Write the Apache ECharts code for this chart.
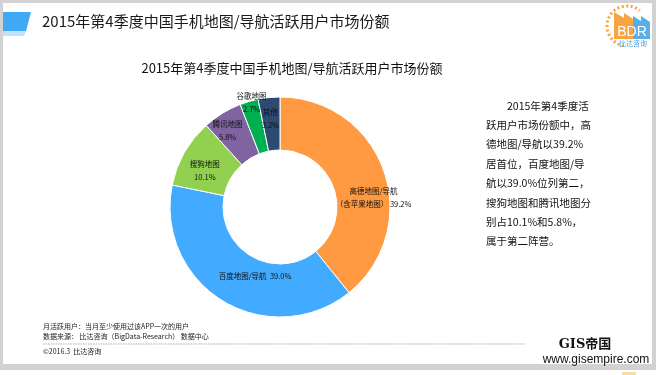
<!DOCTYPE html>
<html>
<head>
<meta charset="utf-8">
<script src="https://cdn.jsdelivr.net/npm/echarts@6/dist/echarts.min.js"></script>
<style>
  html, body { margin: 0; padding: 0; background: #fff; }
  #chart { width: 656px; height: 375px; }
</style>
</head>
<body>
<div id="chart"></div>
<script>
(function () {
    'use strict';

    // 数据（顺时针，从12点开始）
    var names = ['高德地图/导航\n（含苹果地图）', '百度地图/导航', '搜狗地图', '腾讯地图', '谷歌地图', '其他'];
    var shares = [39.2, 39.0, 10.1, 5.8, 2.7, 3.2];
    var joiners = [' ', '  ', '\n', '\n', '\n', '\n'];
    var colors = ['#FF9A42', '#43ABFF', '#92D050', '#8064A2', '#00B050', '#2C4A72'];
    // 标签微调（像素），和 Excel 原图里手动拖动过的标签对齐
    var labelNudge = [[12, 19], [20, -5], [0, 7], [-7, -3], [-4, -21], [-1, -2]];

    var noteLines = [
        '　　2015年第4季度活',
        '跃用户市场份额中，高',
        '德地图/导航以39.2%',
        '居首位，百度地图/导',
        '航以39.0%位列第二，',
        '搜狗地图和腾讯地图分',
        '别占10.1%和5.8%，',
        '属于第二阵营。'
    ];
    var footLines = [
        '月活跃用户：当月至少使用过该APP一次的用户',
        '数据来源： 比达咨询（BigData-Research） 数据中心'
    ];

    var FONT = '"Microsoft YaHei", "Noto Sans CJK SC", sans-serif';
    var chart = echarts.init(document.getElementById('chart'), null, { renderer: 'canvas' });

    var pieData = names.map(function (n, i) {
        return { name: n, value: shares[i], itemStyle: { color: colors[i] } };
    });

    chart.setOption({
        backgroundColor: '#fff',
        animation: false,
        title: {
            text: '2015年第4季度中国手机地图/导航活跃用户市场份额',
            left: 287, top: 57, textAlign: 'center',
            textStyle: { fontSize: 13, fontWeight: 'normal', color: '#111', fontFamily: FONT }
        },
        series: [{
            type: 'pie',
            center: [280, 207],
            radius: [57, 110],
            startAngle: 90,
            clockwise: true,
            silent: true,
            itemStyle: { borderColor: '#fff', borderWidth: 1 },
            label: {
                position: 'inside',
                color: '#111',
                fontSize: 7.5,
                lineHeight: 13,
                fontFamily: FONT,
                formatter: function (p) {
                    return names[p.dataIndex] + joiners[p.dataIndex] + shares[p.dataIndex].toFixed(1) + '%';
                }
            },
            labelLayout: function (p) {
                return { dx: labelNudge[p.dataIndex][0], dy: labelNudge[p.dataIndex][1] };
            },
            data: pieData
        }],
        graphic: [
            // 灰色边框
            { type: 'rect', shape: { x: 0, y: 0, width: 656, height: 3 }, style: { fill: '#D2D2D2' } },
            { type: 'rect', shape: { x: 0, y: 0, width: 3, height: 366 }, style: { fill: '#D2D2D2' } },
            { type: 'rect', shape: { x: 652, y: 0, width: 4, height: 366 }, style: { fill: '#D2D2D2' } },
            { type: 'rect', shape: { x: 0, y: 364, width: 656, height: 6 }, style: { fill: '#D2D2D2' } },
            { type: 'rect', shape: { x: 622, y: 372, width: 14, height: 3 }, style: { fill: '#FBD9A8' } },
            // 页眉
            { type: 'polygon', shape: { points: [[3, 31], [26, 31], [24, 36], [3, 36]] }, style: { fill: '#BFE2FA' } },
            { type: 'polygon', shape: { points: [[3, 12], [31, 12], [26, 31], [3, 31]] }, style: { fill: '#3FA9F5' } },
            {
                type: 'text', x: 42, y: 21,
                style: { text: '2015年第4季度中国手机地图/导航活跃用户市场份额', fontSize: 15, fill: '#1a1a1a',
                    fontFamily: FONT, verticalAlign: 'middle' }
            },
            // BDR 标志
            {
                type: 'arc',
                shape: { cx: 627, cy: 26, r: 20, startAngle: Math.PI * 0.55, endAngle: Math.PI * 1.72, clockwise: true },
                style: { stroke: '#F7A541', fill: null, lineWidth: 3, lineDash: [2, 2.5] }
            },
            { type: 'polygon', shape: { points: [[614, 12], [624, 18], [624, 13], [633, 19], [633, 39], [614, 39]] }, style: { fill: '#F7A541' } },
            { type: 'polygon', shape: { points: [[633, 16], [641, 21], [641, 16], [650, 22], [650, 39], [633, 39]] }, style: { fill: '#5AAEE8' } },
            {
                type: 'text', x: 632, y: 32,
                style: { text: 'BDR', fontSize: 14, fill: '#fff', fontFamily: 'Arial, "Liberation Sans", sans-serif',
                    align: 'center', verticalAlign: 'middle' }
            },
            {
                type: 'text', x: 633, y: 43,
                style: { text: '比达咨询', fontSize: 7, fill: '#4A9FE0', fontFamily: FONT, align: 'center', verticalAlign: 'middle' }
            },
            // 右侧说明
            {
                type: 'text', x: 486, y: 96,
                style: { text: noteLines.join('\n'), fontSize: 10.5, lineHeight: 19.4, fill: '#111', fontFamily: FONT }
            },
            // 页脚
            {
                type: 'text', x: 43, y: 322,
                style: { text: footLines.join('\n'), fontSize: 7, lineHeight: 9.5, fill: '#222', fontFamily: FONT }
            },
            {
                type: 'line', shape: { x1: 43, y1: 344, x2: 525, y2: 344 },
                style: { stroke: '#777', lineWidth: 0.6, lineDash: [1.5, 1] }
            },
            {
                type: 'text', x: 43, y: 351,
                style: { text: '©2016.3  比达咨询', fontSize: 7, fill: '#222', fontFamily: FONT, verticalAlign: 'middle' }
            },
            // 水印
            {
                type: 'text', x: 585, y: 345,
                style: { text: 'GIS帝国', fontSize: 13, fontWeight: 'bold', fill: '#111',
                    fontFamily: '"DejaVu Serif", "Noto Sans CJK SC", serif', align: 'center', verticalAlign: 'middle',
                    textShadowColor: '#fff', textShadowBlur: 3 }
            },
            {
                type: 'text', x: 596, y: 360,
                style: { text: 'www.gisempire.com', fontSize: 12, fill: '#111',
                    fontFamily: 'Arial, "Liberation Sans", sans-serif', align: 'center', verticalAlign: 'middle',
                    textShadowColor: '#fff', textShadowBlur: 3 }
            }
        ]
    });
})();
</script>
</body>
</html>
